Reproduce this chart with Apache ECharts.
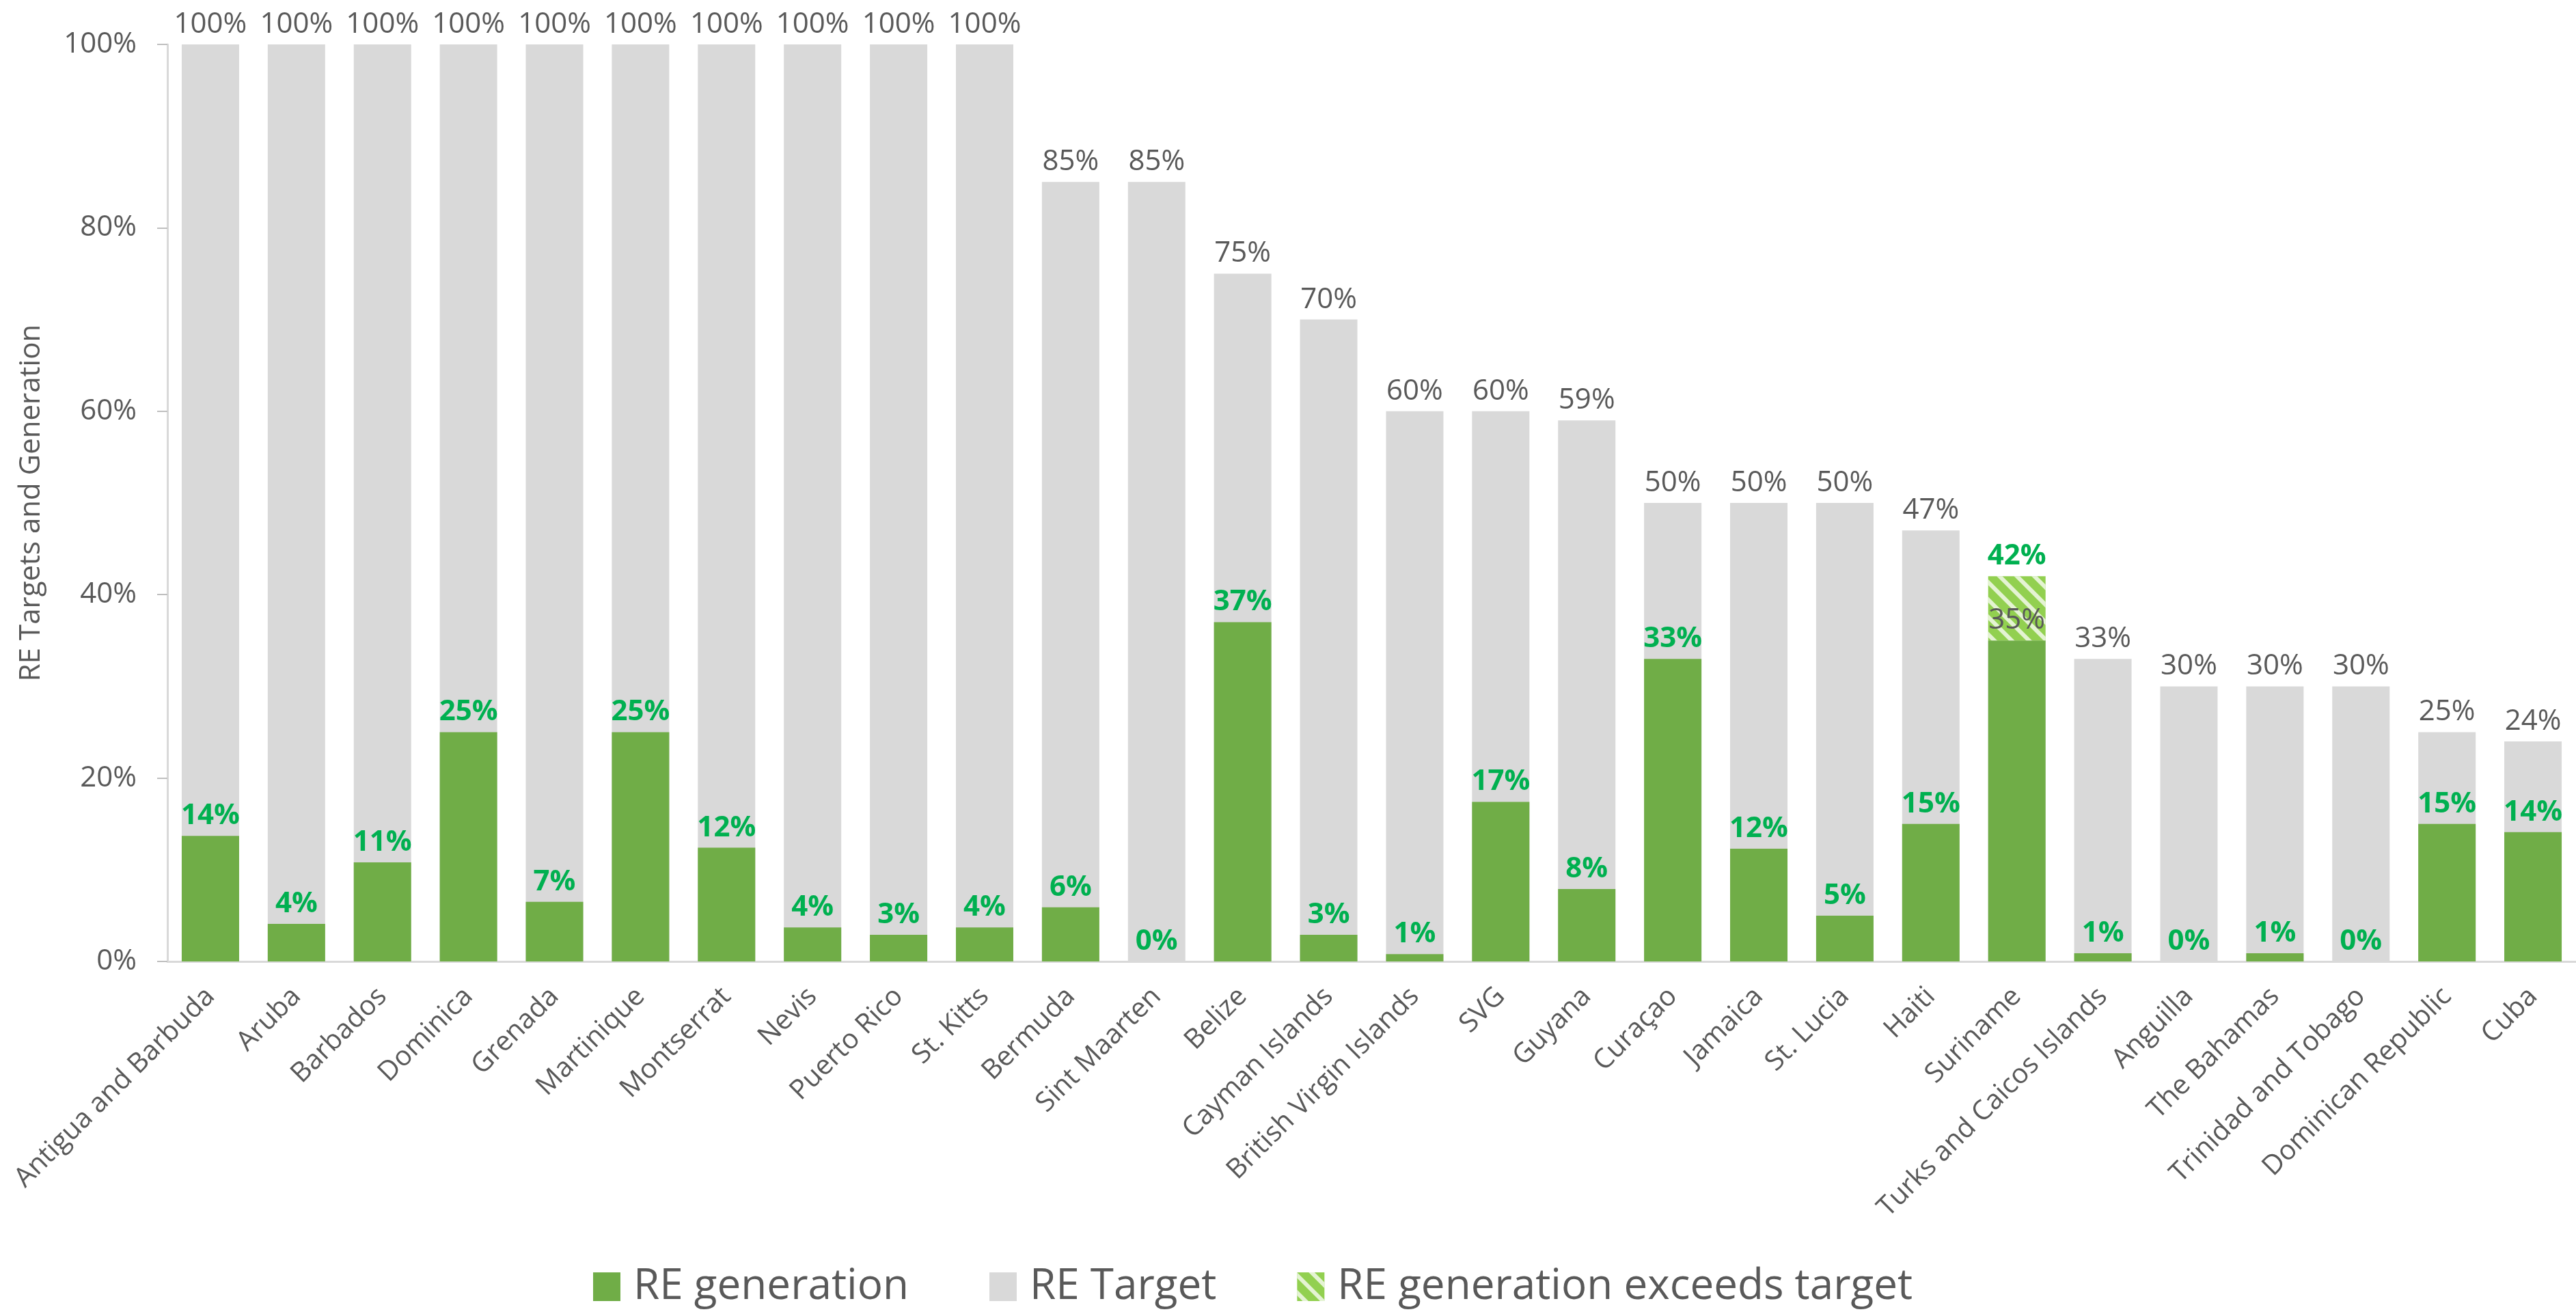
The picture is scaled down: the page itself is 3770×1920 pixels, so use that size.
<!DOCTYPE html>
<html>
<head>
<meta charset="utf-8">
<script src="https://cdn.jsdelivr.net/npm/echarts@6/dist/echarts.min.js"></script>
<style>
html,body{margin:0;padding:0;background:#fff;}
#chart{width:3770px;height:1920px;}
</style>
</head>
<body>
<div id="chart"></div>
<script>
const categories = ["Antigua and Barbuda","Aruba","Barbados","Dominica","Grenada","Martinique","Montserrat","Nevis","Puerto Rico","St. Kitts","Bermuda","Sint Maarten","Belize","Cayman Islands","British Virgin Islands","SVG","Guyana","Curaçao","Jamaica","St. Lucia","Haiti","Suriname","Turks and Caicos Islands","Anguilla","The Bahamas","Trinidad and Tobago","Dominican Republic","Cuba"];
const reTarget = [100,100,100,100,100,100,100,100,100,100,85,85,75,70,60,60,59,50,50,50,47,35,33,30,30,30,25,24];
const reGeneration = [13.7,4.1,10.8,25,6.5,25,12.4,3.7,2.9,3.7,5.9,0,37,2.9,0.8,17.4,7.9,33,12.3,5,15,42,0.9,0,0.9,0,15,14.1];
const yTicks = [0,20,40,60,80,100];

const genWithin = reGeneration.map((g,i)=>Math.min(g,reTarget[i]));
const genExceed = reGeneration.map((g,i)=> g>reTarget[i] ? +(g-reTarget[i]).toFixed(2) : null);

const FONT = "'Open Sans', 'Noto Sans', sans-serif";
const GREY_TXT = '#595959';
const GREEN_TXT = '#00B050';
const BW = 84;

const chart = echarts.init(document.getElementById('chart'), null, {renderer:'canvas'});
chart.setOption({
  animation:false,
  backgroundColor:'#ffffff',
  textStyle:{fontFamily:FONT},
  grid:{left:245, top:65, width:3544, height:1342, containLabel:false},
  legend:{
    data:['RE generation','RE Target','RE generation exceeds target'],
    left:868, top:1852, padding:0,
    itemWidth:40, itemHeight:42, itemGap:118,
    textStyle:{fontSize:62, color:GREY_TXT, fontFamily:FONT, padding:[0,0,0,14]},
    icon:'rect'
  },
  xAxis:{
    type:'category', data:categories,
    axisLine:{show:true, lineStyle:{color:'#D9D9D9', width:3}},
    axisTick:{show:false},
    axisLabel:{interval:0, rotate:45, margin:45, fontSize:40, color:GREY_TXT, fontFamily:FONT}
  },
  yAxis:{
    type:'value', min:yTicks[0], max:yTicks[yTicks.length-1], interval:20,
    name:'RE Targets and Generation', nameLocation:'middle', nameRotate:90, nameGap:178,
    nameTextStyle:{fontSize:42, color:GREY_TXT, fontFamily:FONT},
    axisLine:{show:true, lineStyle:{color:'#D9D9D9', width:3}},
    axisTick:{show:true, length:15, lineStyle:{color:'#BFBFBF', width:2}},
    splitLine:{show:false},
    axisLabel:{formatter:'{value}%', margin:45, fontSize:42, color:GREY_TXT, fontFamily:FONT}
  },
  series:[
    {
      name:'RE Target', type:'bar', data:reTarget, barWidth:BW, barGap:'-100%',
      itemStyle:{color:'#D9D9D9'},
      label:{show:true, position:'top', distance:8, fontSize:42, color:GREY_TXT, fontFamily:FONT,
        formatter:p=>Math.round(p.value)+'%'}
    },
    {
      name:'RE generation', type:'bar', stack:'gen', data:genWithin, barWidth:BW, barGap:'-100%',
      itemStyle:{color:'#70AD47'},
      label:{show:true, position:'top', distance:8, fontSize:42, fontWeight:'bold', color:GREEN_TXT, fontFamily:FONT,
        formatter:p=> genExceed[p.dataIndex]!==null ? '' : Math.round(reGeneration[p.dataIndex])+'%'}
    },
    {
      name:'RE generation exceeds target', type:'bar', stack:'gen', data:genExceed, barWidth:BW, barGap:'-100%',
      itemStyle:{color:'#92D050', decal:{symbol:'rect', symbolSize:1, dashArrayX:[1,0], dashArrayY:[6,12], rotation:Math.PI/4, color:'rgba(255,255,255,0.75)'}},
      label:{show:true, position:'top', distance:8, fontSize:42, fontWeight:'bold', color:GREEN_TXT, fontFamily:FONT,
        formatter:p=> Math.round(reGeneration[p.dataIndex])+'%'}
    }
  ]
});
</script>
</body>
</html>
